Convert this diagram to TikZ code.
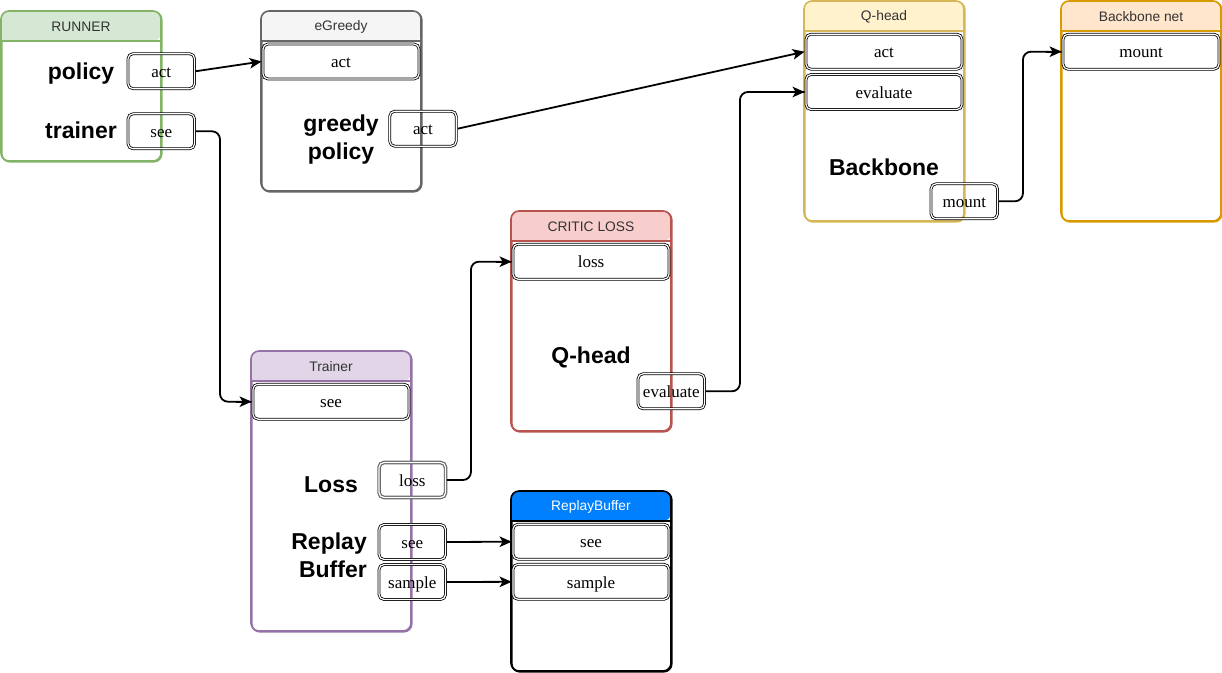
\documentclass[tikz,border=0pt]{standalone}
\usepackage{fontspec}
\setmainfont{Liberation Serif}
\setsansfont{Liberation Sans}
\usetikzlibrary{arrows.meta,calc}
\definecolor{gfill}{HTML}{D5E8D4}\definecolor{gline}{HTML}{82B366}
\definecolor{sfill}{HTML}{F5F5F5}\definecolor{sline}{HTML}{666666}
\definecolor{yfill}{HTML}{FFF2CC}\definecolor{yline}{HTML}{D6B656}
\definecolor{ofill}{HTML}{FFE6CC}\definecolor{oline}{HTML}{D79B00}
\definecolor{rfill}{HTML}{F8CECC}\definecolor{rline}{HTML}{B85450}
\definecolor{pfill}{HTML}{E1D5E7}\definecolor{pline}{HTML}{9673A6}
\definecolor{bfill}{HTML}{007FFF}
\tikzset{
  cont/.style={draw, line width=1.6pt, rounded corners=8pt, fill=white, minimum width=160pt, inner sep=0pt, anchor=north west},
  rowbox/.style={draw=black, double=white, double distance=1.2pt, line width=0.8pt, rounded corners=5pt,
    minimum width=156pt, minimum height=35pt, inner sep=0pt, outer sep=1.4pt,
    text height=12.5pt, text depth=0pt, font=\rmfamily\fontsize{17}{20}\selectfont},
  portbox/.style={rowbox, minimum width=66.5pt},
  big/.style={font=\sffamily\bfseries\fontsize{23}{28}\selectfont, inner sep=0pt},
  headtxt/.style={font=\sffamily\fontsize{13.8}{16}\selectfont, text=black!80, inner sep=0pt},
  wire/.style={draw, line width=1.8pt, -{Stealth[length=12pt, width=10.5pt, inset=3pt]}},
  wirebody/.style={draw, line width=1.8pt, rounded corners=8pt}
}
\newcommand{\headfill}[3]{% x y fill
  \fill[#3] (#1,#2+30) [rounded corners=8pt] -- (#1,#2) -- (#1+160,#2) -- (#1+160,#2+30) [sharp corners] -- cycle;
}
\begin{document}
\begin{tikzpicture}[x=1pt,y=-1pt]
\useasboundingbox (0,0) rectangle (1222,672);
% containers
\node[cont, draw=gline, minimum height=150pt] (runner) at (1,11) {};
\node[cont, draw=sline, minimum height=180pt] (egreedy) at (261,11) {};
\node[cont, draw=yline, minimum height=220pt] (qhead) at (804,1) {};
\node[cont, draw=oline, minimum height=220pt] (bbnet) at (1061,1) {};
\node[cont, draw=rline, minimum height=220pt] (critic) at (511,211) {};
\node[cont, draw=pline, minimum height=280pt] (trainer) at (251,351) {};
\node[cont, draw=black, minimum height=180pt] (replay) at (511,491) {};
% header fills
\headfill{1}{11}{gfill}
\headfill{261}{11}{sfill}
\headfill{804}{1}{yfill}
\headfill{1061}{1}{ofill}
\headfill{511}{211}{rfill}
\headfill{251}{351}{pfill}
\headfill{511}{491}{bfill}
% outlines and header lines
\draw[gline, line width=1.6pt, rounded corners=8pt] (1,11) rectangle (161,161); \draw[gline, line width=1.6pt] (1,41) -- (161,41);
\draw[sline, line width=1.6pt, rounded corners=8pt] (261,11) rectangle (421,191); \draw[sline, line width=1.6pt] (261,41) -- (421,41);
\draw[yline, line width=1.6pt, rounded corners=8pt] (804,1) rectangle (964,221); \draw[yline, line width=1.6pt] (804,31) -- (964,31);
\draw[oline, line width=1.6pt, rounded corners=8pt] (1061,1) rectangle (1221,221); \draw[oline, line width=1.6pt] (1061,31) -- (1221,31);
\draw[rline, line width=1.6pt, rounded corners=8pt] (511,211) rectangle (671,431); \draw[rline, line width=1.6pt] (511,241) -- (671,241);
\draw[pline, line width=1.6pt, rounded corners=8pt] (251,351) rectangle (411,631); \draw[pline, line width=1.6pt] (251,381) -- (411,381);
\draw[black, line width=1.6pt, rounded corners=8pt] (511,491) rectangle (671,671); \draw[black, line width=1.6pt] (511,521) -- (671,521);
% header texts
\node[headtxt] (hrunner) at (81,26.5) {RUNNER};
\node[headtxt] (hegreedy) at (341,26.5) {eGreedy};
\node[headtxt] (hqhead) at (884,16.5) {Q-head};
\node[headtxt] (hbbnet) at (1141,16.5) {Backbone net};
\node[headtxt] (hcritic) at (591,226.5) {CRITIC LOSS};
\node[headtxt] (htrainer) at (331,366.5) {Trainer};
\node[headtxt, text=white] (hreplay) at (591,506.5) {ReplayBuffer};
% rows
\node[rowbox] (ga) at (341,61.5) {act};
\node[rowbox] (qa) at (884,51.7) {act};
\node[rowbox] (qe) at (884,92) {evaluate};
\node[rowbox] (bm) at (1141,51.7) {mount};
\node[rowbox] (cl) at (591,261.7) {loss};
\node[rowbox] (ts) at (331,401.7) {see};
\node[rowbox] (rse) at (591,541.7) {see};
\node[rowbox] (rsa) at (591,581.8) {sample};
% ports
\node[portbox] (ra) at (161.3,71.2) {act};
\node[portbox] (rs) at (161.3,131.3) {see};
\node[portbox] (gp) at (423,128.7) {act};
\node[portbox] (qm) at (964.3,201.3) {mount};
\node[portbox] (ce) at (671.3,391.3) {evaluate};
\node[portbox, draw=black!60, line width=1.2pt] (tl) at (412.3,480) {loss};
\node[portbox] (tse) at (412.3,542) {see};
\node[portbox] (tsa) at (412.3,582) {sample};
% bold labels
\node[big] (lpolicy) at (81,74) {policy};
\node[big] (ltrainer) at (81,130) {trainer};
\node[big, align=center] (lgreedy) at (341,140) {greedy\\policy};
\node[big] (lbackbone) at (884,167) {Backbone};
\node[big] (lqhead) at (591,357) {Q-head};
\node[big] (lloss) at (331,485) {Loss};
\node[big, align=right, anchor=east] (lreplay) at (367,555) {Replay\\Buffer};
% connectors
\draw[wire] (ra.east) -- (ga.west);
\draw[wirebody] (rs.east) -- ++(24,0) |- (ts.west);
\draw[wire] ($(ts.west)+(-16,0)$) -- (ts.west);
\draw[wire] (gp.east) -- (qa.west);
\draw[wirebody] (qm.east) -- ++(24,0) |- (bm.west);
\draw[wire] ($(bm.west)+(-16,0)$) -- (bm.west);
\draw[wirebody] (ce.east) -- ++(34,0) |- (qe.west);
\draw[wire] ($(qe.west)+(-16,0)$) -- (qe.west);
\draw[wirebody] (tl.east) -- ++(24,0) |- (cl.west);
\draw[wire] ($(cl.west)+(-16,0)$) -- (cl.west);
\draw[wire] (tse.east) -- (rse.west);
\draw[wire] (tsa.east) -- (rsa.west);
\end{tikzpicture}
\end{document}
